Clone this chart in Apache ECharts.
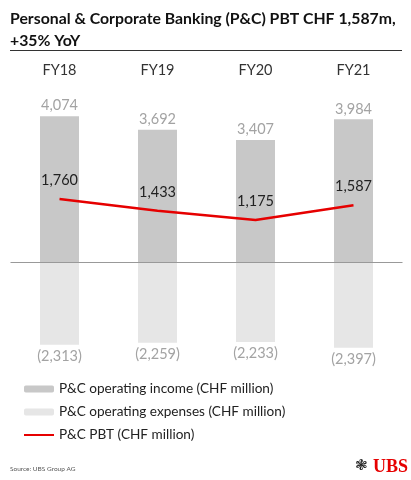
<!DOCTYPE html>
<html>
<head>
<meta charset="utf-8">
<script src="https://cdn.jsdelivr.net/npm/echarts@6/dist/echarts.min.js"></script>
<style>
  html, body { margin: 0; padding: 0; background: #fff; }
  #main { width: 411px; height: 480px; }
</style>
</head>
<body>
<div id="main"></div>
<script>
var years = ['FY18', 'FY19', 'FY20', 'FY21'];
var incomeData = [4074, 3692, 3407, 3984];
var expensesData = [-2313, -2259, -2233, -2397];
var pbtData = [1760, 1433, 1175, 1587];

var fontName = 'Lato';

function fmt(v) {
	return Math.abs(v).toLocaleString('en-US');
}

var option = {
	animation: false,
	backgroundColor: '#fff',
	textStyle: { fontFamily: fontName },
	title: {
		text: 'Personal & Corporate Banking (P&C) PBT CHF 1,587m,\n+35% YoY',
		left: 5,
		top: 3,
		textStyle: {
			fontFamily: fontName,
			fontSize: 15.8,
			fontWeight: 'bold',
			color: '#111',
			lineHeight: 22
		}
	},
	legend: {
		orient: 'vertical',
		left: 18,
		top: 377,
		itemWidth: 30,
		itemHeight: 7,
		itemGap: 9,
		textStyle: { fontFamily: fontName, fontSize: 13.6, color: '#222' },
		data: [
			'P&C operating income (CHF million)',
			'P&C operating expenses (CHF million)',
			{ name: 'P&C PBT (CHF million)', itemStyle: { opacity: 0 } }
		]
	},
	grid: { left: 10.5, right: 8.5, top: 83, bottom: 128.5 },
	xAxis: {
		type: 'category',
		position: 'top',
		data: years,
		axisLine: { show: false, onZero: false },
		axisTick: { show: false },
		axisLabel: { fontFamily: fontName, fontSize: 14.5, color: '#333', margin: 5 }
	},
	yAxis: {
		type: 'value',
		min: -2500,
		max: 5000,
		show: false
	},
	series: [
		{
			name: 'P&C operating income (CHF million)',
			type: 'bar',
			stack: 'pc',
			barWidth: 39,
			itemStyle: { color: '#c8c8c8' },
			label: {
				show: true,
				position: 'top',
				distance: 3,
				fontFamily: fontName,
				fontSize: 14.5,
				color: '#a3a3a3',
				formatter: function (p) { return fmt(p.value); }
			},
			markLine: {
				silent: true,
				symbol: 'none',
				label: { show: false },
				lineStyle: { color: '#999', type: 'solid', width: 1 },
				data: [{ yAxis: 0 }]
			},
			data: incomeData
		},
		{
			name: 'P&C operating expenses (CHF million)',
			type: 'bar',
			stack: 'pc',
			barWidth: 39,
			itemStyle: { color: '#e6e6e6' },
			label: {
				show: true,
				position: 'bottom',
				distance: 4,
				fontFamily: fontName,
				fontSize: 14.5,
				color: '#a3a3a3',
				formatter: function (p) { return '(' + fmt(p.value) + ')'; }
			},
			data: expensesData
		},
		{
			name: 'P&C PBT (CHF million)',
			type: 'line',
			symbol: 'none',
			z: 5,
			lineStyle: { color: '#e60000', width: 2.5 },
			itemStyle: { color: '#e60000' },
			data: pbtData
		},
		{
			name: 'PBT labels',
			type: 'line',
			symbol: 'circle',
			symbolSize: 0,
			z: 6,
			lineStyle: { width: 0, opacity: 0 },
			itemStyle: { color: 'transparent' },
			label: {
				show: true,
				position: 'top',
				distance: 11,
				fontFamily: fontName,
				fontSize: 14.5,
				color: '#222',
				formatter: function (p) { return fmt(p.value); }
			},
			data: pbtData
		}
	],
	graphic: [
		{
			type: 'line',
			shape: { x1: 10, y1: 50.5, x2: 402, y2: 50.5 },
			style: { stroke: '#333', lineWidth: 1 }
		},
		{
			type: 'text',
			left: 10,
			top: 465,
			style: { text: 'Source: UBS Group AG', fontFamily: fontName, fontSize: 6.5, fill: '#555' }
		},
		{
			type: 'text',
			left: 355,
			top: 459,
			style: { text: '\u2743', fontFamily: 'DejaVu Sans', fontSize: 15, fill: '#222' }
		},
		{
			type: 'text',
			left: 373,
			top: 458,
			style: { text: 'UBS', fontFamily: 'Liberation Serif', fontWeight: 'bold', fontSize: 18, fill: '#e60000' }
		}
	]
};

var myChart = echarts.init(document.getElementById('main'));
myChart.setOption(option, true);

window.onresize = function () {
	myChart.resize();
};
</script>
</body>
</html>
